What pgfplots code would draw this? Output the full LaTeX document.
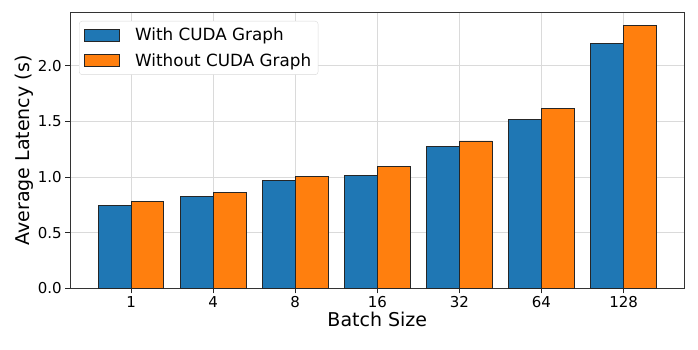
\documentclass[border=0pt]{standalone}
\usepackage{pgfplots}
\pgfplotsset{compat=1.18}
\usepackage{fontspec}
\setmainfont{DejaVu Sans}
\definecolor{mplblue}{HTML}{1F77B4}
\definecolor{mplorange}{HTML}{FF7F0E}
\definecolor{gridgray}{HTML}{DADADA}

\begin{document}
\begin{tikzpicture}
\useasboundingbox (-70.3pt,-60.7pt) rectangle (627.7pt,288.3pt);
\begin{axis}[
  scale only axis,
  width=614pt, height=275.6pt,
  xmin=-0.74, xmax=6.74,
  ymin=0, ymax=2.477,
  xtick={0,1,2,3,4,5,6},
  xticklabels={1,4,8,16,32,64,128},
  ytick={0,0.5,1.0,1.5,2.0},
  yticklabel style={/pgf/number format/.cd,fixed,fixed zerofill,precision=1},
  /pgf/number format/assume math mode=true,
  tick label style={font=\fontsize{15}{18}\selectfont, black},
  tick align=outside,
  tick pos=left,
  major tick length=5pt,
  tick style={black!85, line width=0.9pt},
  axis line style={black!80, line width=0.9pt},
  xlabel={Batch Size},
  ylabel={Average Latency (s)},
  label style={font=\fontsize{19}{22}\selectfont},
  xlabel style={yshift=3pt},
  ylabel style={yshift=-2pt},
  grid=major,
  major grid style={draw=gridgray, line width=0.9pt},
  ybar,
  bar width=0.4,
  legend style={at={(0.0142,0.970)}, anchor=north west,
    draw=black!15, rounded corners=3pt, fill=white,
    font=\fontsize{16.8}{20}\selectfont,
    inner xsep=5pt, inner ysep=5pt,
    row sep=7pt,
    /tikz/every odd column/.append style={column sep=13pt}},
  legend cell align=left,
  legend image code/.code={
    \draw[#1, line width=0.9pt, sharp corners] (0pt,-6pt) rectangle (35pt,6pt);
  },
]
\addplot[fill=mplblue, draw=black!85, line width=0.9pt, bar shift=-0.2] coordinates {
  (0,0.741) (1,0.828) (2,0.966) (3,1.016) (4,1.274) (5,1.519) (6,2.197)};
\addlegendentry{With CUDA Graph}
\addplot[fill=mplorange, draw=black!85, line width=0.9pt, bar shift=0.2] coordinates {
  (0,0.783) (1,0.864) (2,1.007) (3,1.097) (4,1.324) (5,1.614) (6,2.359)};
\addlegendentry{Without CUDA Graph}
\end{axis}
\end{tikzpicture}
\end{document}
